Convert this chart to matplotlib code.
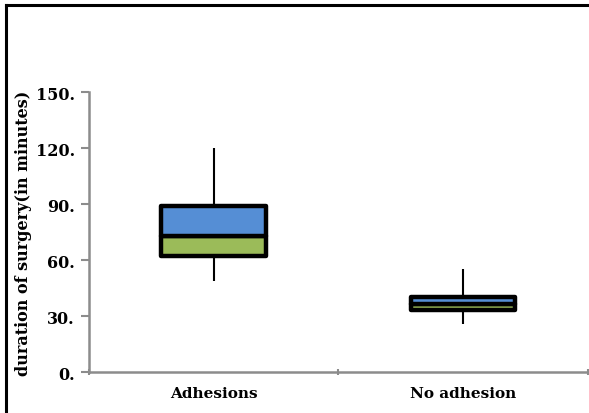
import numpy
import matplotlib
matplotlib.use('Agg')
import matplotlib.pyplot as plt
from matplotlib.lines import Line2D

# Data
groups = ['Adhesions', 'No adhesion']
minimum = [49, 26]
q1 = [62, 33]
median = [73, 36.3]
q3 = [89, 40]
maximum = [120, 55]
y_ticks = [0, 30, 60, 90, 120, 150]

plt.rcParams['font.family'] = 'DejaVu Serif'
plt.rcParams['font.weight'] = 'bold'

fig = plt.figure(figsize=(5.89, 4.14), dpi=100)
ax = fig.add_axes([0.151, 0.099, 0.847, 0.676])

x = numpy.arange(len(groups))
low = numpy.array(median) - numpy.array(q1)
high = numpy.array(q3) - numpy.array(median)

# Whiskers
ax.vlines(x, minimum, maximum, color='black', linewidth=1.5, zorder=1)

# Box parts
bars_low = ax.bar(x, low, bottom=q1, width=0.42, color='#9BBB59',
                  edgecolor='black', linewidth=3.2, zorder=2)
bars_high = ax.bar(x, high, bottom=median, width=0.42, color='#558ED5',
                   edgecolor='black', linewidth=3.2, zorder=2)
for p in list(bars_low) + list(bars_high):
    p.set_joinstyle('round')

ax.set_xlim(-0.5, 1.5)
ax.set_ylim(0, 150)

ax.set_yticks(y_ticks)
ax.set_yticklabels([f'{v}.' for v in y_ticks], fontsize=11.5, fontweight='bold')
ax.set_xticks([-0.5, 0.5, 1.5], minor=False)
ax.set_xticklabels([])
ax.set_xticks(x, minor=True)
ax.set_xticklabels(groups, minor=True, fontsize=11, fontweight='bold')
ax.tick_params(axis='x', which='minor', length=0, pad=10)
ax.tick_params(axis='x', which='major', length=5, color='#8c8c8c',
               width=1.5, direction='inout')
ax.tick_params(axis='y', length=6, color='#8c8c8c', width=1.5, pad=4)

for side in ['top', 'right']:
    ax.spines[side].set_visible(False)
for side in ['left', 'bottom']:
    ax.spines[side].set_color('#8c8c8c')
    ax.spines[side].set_linewidth(1.8)

ax.set_ylabel('duration of surgery(in minutes)', fontsize=11.5,
              fontweight='bold', labelpad=3)

# Chart border (top and left)
fig.add_artist(Line2D([0.011, 1.0], [0.985, 0.985], color='black',
                      linewidth=2.2, transform=fig.transFigure))
fig.add_artist(Line2D([0.011, 0.011], [0.0, 0.985], color='black',
                      linewidth=2.2, transform=fig.transFigure))

plt.savefig('out.png', dpi=100)
plt.close()
